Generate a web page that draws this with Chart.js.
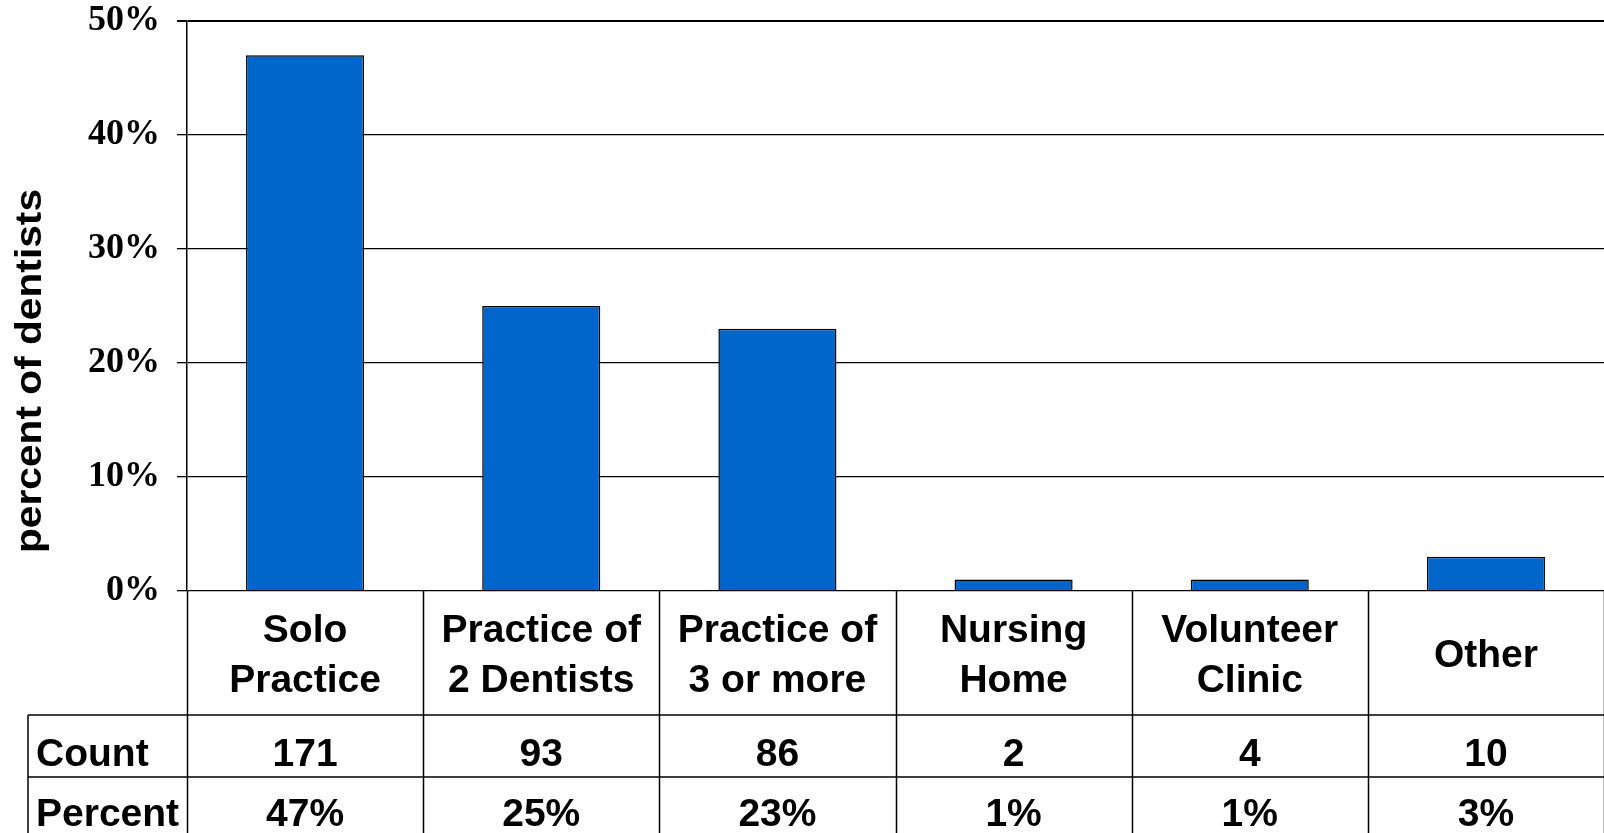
<!DOCTYPE html>
<html>
<head>
<meta charset="utf-8">
<script src="https://cdn.jsdelivr.net/npm/chart.js@4.4.0/dist/chart.umd.min.js"></script>
<style>
  html, body { margin: 0; padding: 0; background: #fff; }
  #wrap { width: 1604px; height: 833px; }
</style>
</head>
<body>
<div id="wrap"><canvas id="chart" width="1604" height="833"></canvas></div>
<script>
// ---- data ----------------------------------------------------------------
var categories = [
    ['Solo', 'Practice'],
    ['Practice of', '2 Dentists'],
    ['Practice of', '3 or more'],
    ['Nursing', 'Home'],
    ['Volunteer', 'Clinic'],
    ['Other']
];
var percentValues = [47, 25, 23, 1, 1, 3];
var counts = ['171', '93', '86', '2', '4', '10'];
var percentLabels = ['47%', '25%', '23%', '1%', '1%', '3%'];
var rowLabels = ['Count', 'Percent'];
var yTitle = 'percent of dentists';

var sansBold = 'bold 39px "Liberation Sans", Arial, sans-serif';

// draws the y title and the data table under the plot
var tablePlugin = {
    id: 'dataTable',
    afterDraw: function(chart) {
        var ctx = chart.ctx;
        var x = chart.scales.x;
        var area = chart.chartArea;
        var step = x.getPixelForValue(1) - x.getPixelForValue(0);
        var top = area.bottom;
        var row1 = 715, row2 = 777, bottom = chart.height;
        var tableLeft = 28;

        ctx.save();

        // grid of the table
        ctx.strokeStyle = '#000';
        ctx.lineWidth = 1.5;
        ctx.beginPath();
        [row1, row2].forEach(function(y) {
            ctx.moveTo(tableLeft, y);
            ctx.lineTo(area.right, y);
        });
        ctx.moveTo(tableLeft, row1);
        ctx.lineTo(tableLeft, bottom);
        for (var i = 0; i <= categories.length; i++) {
            var px = Math.round(x.getPixelForValue(i) - step / 2) + 0.5;
            ctx.moveTo(px, top);
            ctx.lineTo(px, bottom);
        }
        ctx.stroke();

        // texts
        ctx.fillStyle = '#000';
        ctx.font = sansBold;
        ctx.textBaseline = 'alphabetic';
        ctx.textAlign = 'center';
        var mid = (top + row1) / 2;
        categories.forEach(function(lines, i) {
            var cx = x.getPixelForValue(i);
            lines.forEach(function(line, j) {
                ctx.fillText(line, cx, mid + 14 + (j - (lines.length - 1) / 2) * 50);
            });
            ctx.fillText(counts[i], cx, 765.5);
            ctx.fillText(percentLabels[i], cx, 826);
        });

        ctx.textAlign = 'left';
        ctx.fillText(rowLabels[0], 36, 765.5);
        ctx.fillText(rowLabels[1], 36, 826);

        // rotated y title
        ctx.translate(31, 371);
        ctx.rotate(-Math.PI / 2);
        ctx.scale(1.1, 1);
        ctx.font = 'bold 37px "Liberation Sans", Arial, sans-serif';
        ctx.textAlign = 'center';
        ctx.textBaseline = 'middle';
        ctx.fillText(yTitle, 0, 0);

        ctx.restore();
    }
};

new Chart(document.getElementById('chart'), {
    type: 'bar',
    data: {
        labels: categories,
        datasets: [{
            data: percentValues,
            backgroundColor: '#0066CC',
            borderColor: '#000',
            borderWidth: 1.5,
            barPercentage: 0.5,
            categoryPercentage: 1.0
        }]
    },
    options: {
        responsive: false,
        animation: false,
        layout: {
            padding: { top: 21, bottom: 242, left: 0, right: 0 }
        },
        plugins: {
            legend: { display: false },
            tooltip: { enabled: false }
        },
        scales: {
            x: {
                display: false
            },
            y: {
                min: 0,
                max: 50,
                afterFit: function(scale) {
                    scale.width = 187;
                    scale.paddingTop = 0;
                    scale.paddingBottom = 0;
                },
                ticks: {
                    stepSize: 10,
                    padding: 17,
                    color: '#000',
                    font: { family: '"Liberation Serif", "Times New Roman", serif', weight: 'bold', size: 36 },
                    callback: function(v) { return v + '%'; }
                },
                grid: {
                    color: '#000',
                    lineWidth: function(c) { return c.tick && c.tick.value === 50 ? 2 : 1.3; },
                    tickLength: 10,
                    drawTicks: true
                },
                border: { display: true, color: '#000', width: 1.5 }
            }
        }
    },
    plugins: [tablePlugin]
});
</script>
</body>
</html>
